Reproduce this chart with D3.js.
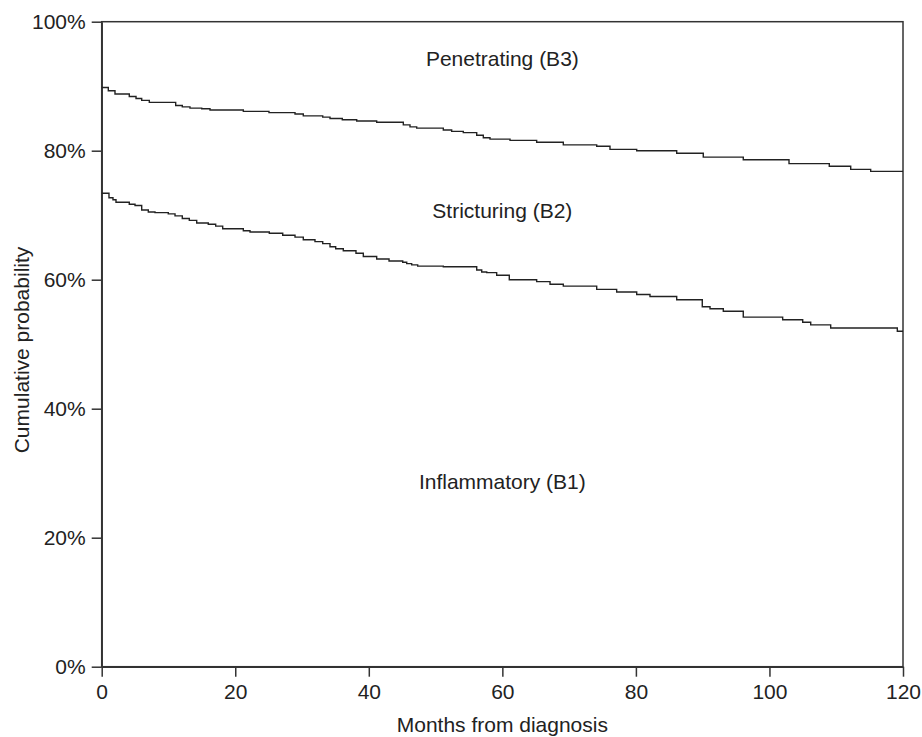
<!DOCTYPE html>
<html>
<head>
  <script src="https://d3js.org/d3.v7.min.js"></script>
  <style>
    body { margin: 0; background: #fff; }
    text { font-family: "Liberation Sans", Arial, sans-serif; fill: #222; }
    .axis text { font-size: 21px; }
    .axis path, .axis line { stroke: #333; stroke-width: 1.5; }
  </style>
</head>
<body>
  <script>
    // step curve boundaries (months, cumulative %)
    const b3Months = [0, 0.99, 1.99, 4.13, 5.14, 5.99, 7.13, 11.08, 12.07, 13.22, 14.98, 16.22, 21.21, 25.05, 28.95, 30.19, 33.1, 34.19, 36.03, 38.19, 41.18, 45.17, 46.17, 47.17, 51.16, 52.41, 54.15, 56.16, 57.15, 58.15, 61.15, 65.14, 69.13, 74.13, 76.12, 80.12, 86.11, 90.09, 96.08, 102.93, 108.96, 112.17, 115.16, 120];
    const b3Values = [89.8, 89.3, 88.8, 88.4, 88.1, 87.8, 87.5, 87.0, 86.8, 86.6, 86.5, 86.3, 86.1, 85.9, 85.7, 85.4, 85.2, 85.0, 84.8, 84.6, 84.4, 84.0, 83.7, 83.5, 83.2, 83.0, 82.8, 82.4, 82.0, 81.8, 81.6, 81.3, 80.9, 80.7, 80.2, 80.0, 79.6, 79.0, 78.6, 78.0, 77.6, 77.1, 76.8, 76.8];

    const b2Months = [0, 1.09, 1.69, 2.14, 4.13, 4.99, 5.99, 6.98, 7.98, 9.97, 10.98, 12.07, 13.12, 14.23, 15.96, 17.07, 18.12, 21.21, 22.21, 25.1, 27.11, 28.95, 30.19, 31.94, 33.1, 34.19, 35.04, 36.18, 38.08, 39.18, 41.18, 43.03, 45.08, 45.68, 46.42, 47.32, 51.16, 56.16, 56.91, 57.66, 59.15, 61.04, 65.14, 67.14, 69.13, 74.13, 77.12, 80.12, 82.11, 86.11, 89.94, 91.1, 93.09, 96.08, 101.98, 104.98, 106.18, 109.17, 119.15, 120];
    const b2Values = [73.4, 72.7, 72.4, 72.0, 71.7, 71.5, 70.8, 70.5, 70.4, 70.2, 69.9, 69.5, 69.2, 68.8, 68.6, 68.3, 67.9, 67.6, 67.4, 67.2, 66.9, 66.6, 66.2, 65.9, 65.6, 65.1, 64.8, 64.5, 64.1, 63.6, 63.2, 62.9, 62.7, 62.5, 62.3, 62.1, 62.0, 61.5, 61.2, 61.1, 60.7, 60.0, 59.7, 59.3, 59.0, 58.5, 58.1, 57.7, 57.4, 56.9, 55.8, 55.5, 55.1, 54.2, 53.8, 53.4, 53.0, 52.5, 52.0, 52.0];

    const xTicks = [0, 20, 40, 60, 80, 100, 120];
    const yTicks = [0, 20, 40, 60, 80, 100];

    const regionLabels = ["Penetrating (B3)", "Stricturing (B2)", "Inflammatory (B1)"];
    const labelMonth = [60, 60, 60];
    const labelValue = [93.1, 69.6, 27.6];

    const width = 922;
    const height = 737;
    const margin = { top: 21.7, right: 19, bottom: 70.3, left: 101.7 };
    const innerW = width - margin.left - margin.right;
    const innerH = height - margin.top - margin.bottom;

    const svg = d3.select("body")
      .append("svg")
      .attr("width", width)
      .attr("height", height);

    const g = svg.append("g")
      .attr("transform", `translate(${margin.left},${margin.top})`);

    const x = d3.scaleLinear().domain([0, 120]).range([0, innerW]);
    const y = d3.scaleLinear().domain([0, 100]).range([innerH, 0]);

    // frame
    g.append("rect")
      .attr("width", innerW)
      .attr("height", innerH)
      .attr("fill", "none")
      .attr("stroke", "#333")
      .attr("stroke-width", 1.5);

    g.append("g")
      .attr("class", "axis")
      .attr("transform", `translate(0,${innerH})`)
      .call(d3.axisBottom(x).tickValues(xTicks).tickSize(10).tickSizeOuter(0).tickPadding(7));

    g.append("g")
      .attr("class", "axis")
      .call(d3.axisLeft(y).tickValues(yTicks).tickSize(10).tickSizeOuter(0).tickPadding(6)
        .tickFormat(d => d + "%"));

    const line = d3.line()
      .x(d => x(d[0]))
      .y(d => y(d[1]))
      .curve(d3.curveStepAfter);

    [[b3Months, b3Values], [b2Months, b2Values]].forEach(([m, v]) => {
      g.append("path")
        .datum(m.map((d, i) => [d, v[i]]))
        .attr("fill", "none")
        .attr("stroke", "#222")
        .attr("stroke-width", 1.4)
        .attr("d", line);
    });

    g.selectAll(".region-label")
      .data(regionLabels)
      .join("text")
      .attr("class", "region-label")
      .attr("x", (d, i) => x(labelMonth[i]))
      .attr("y", (d, i) => y(labelValue[i]))
      .attr("text-anchor", "middle")
      .attr("font-size", "21px")
      .text(d => d);

    svg.append("text")
      .attr("x", margin.left + innerW / 2)
      .attr("y", 732)
      .attr("text-anchor", "middle")
      .attr("font-size", "21px")
      .text("Months from diagnosis");

    svg.append("text")
      .attr("transform", "translate(29,350) rotate(-90)")
      .attr("text-anchor", "middle")
      .attr("font-size", "21px")
      .text("Cumulative probability");
  </script>
</body>
</html>
